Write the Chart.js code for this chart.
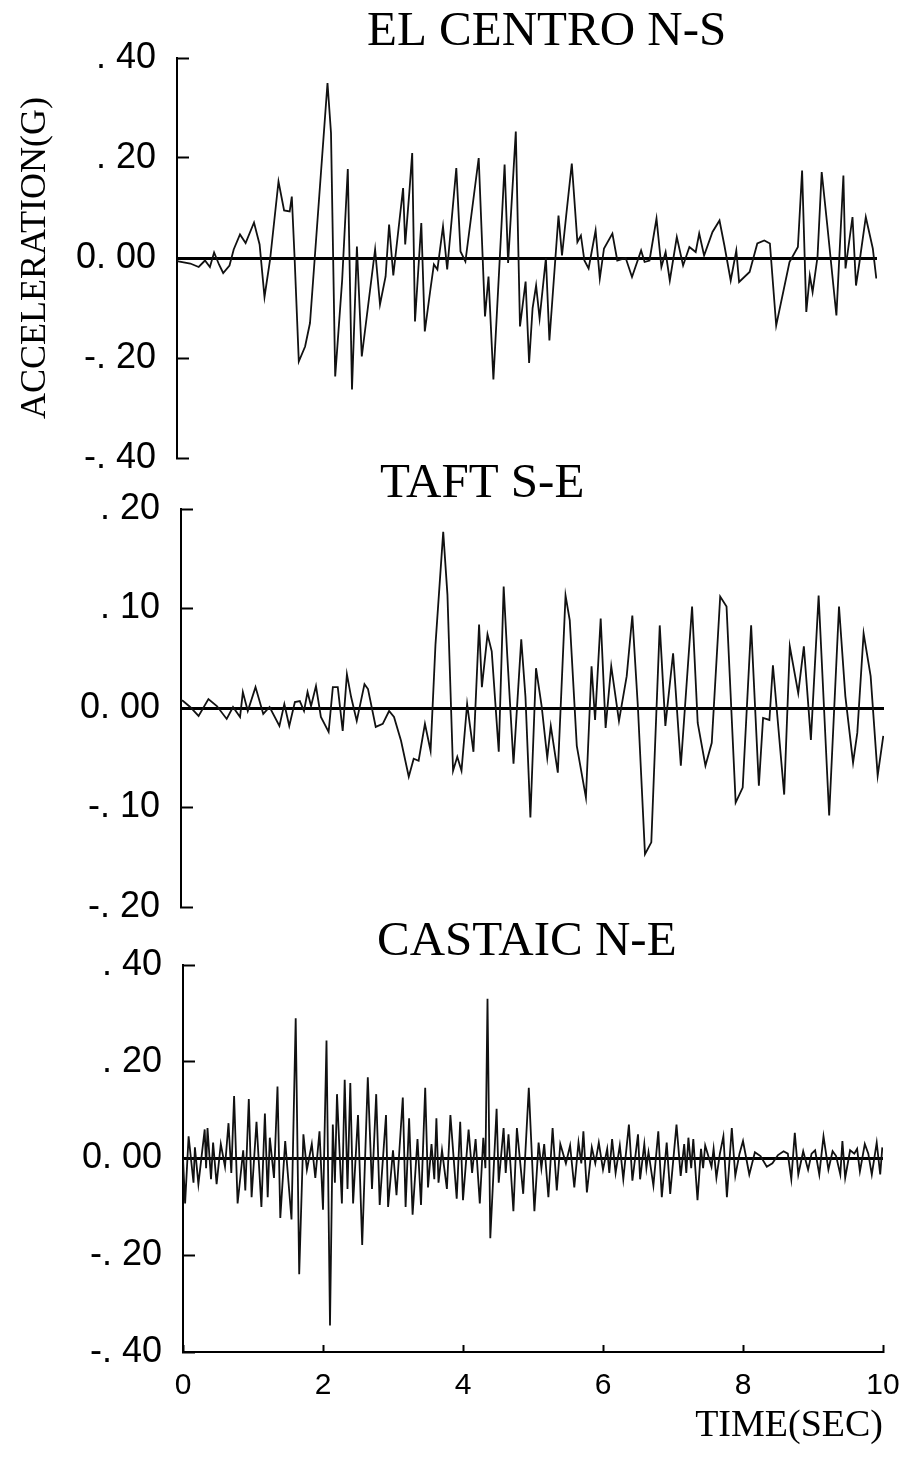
<!DOCTYPE html>
<html>
<head>
<meta charset="utf-8">
<title>Ground acceleration records</title>
<script src="https://cdn.jsdelivr.net/npm/chart.js@4.4.1/dist/chart.umd.min.js"></script>
<style>
  body { margin: 0; background: #fff; }
  #wrap { position: relative; width: 907px; height: 1467px; overflow: hidden; }
  #wrap canvas { position: absolute; left: 0; }
</style>
</head>
<body>
<div id="wrap">
  <canvas id="elCentroChart" width="907" height="470" style="top:0px"></canvas>
  <canvas id="taftChart" width="907" height="500" style="top:430px"></canvas>
  <canvas id="castaicChart" width="907" height="577" style="top:890px"></canvas>
</div>
<script>
// El Centro N-S (time in sec, acceleration in g)
const elTime = [
  0, 0.02, 0.19, 0.31, 0.40, 0.47, 0.53, 0.60, 0.66, 0.75,
  0.81, 0.90, 0.98, 1.10, 1.18, 1.25, 1.33, 1.45, 1.53, 1.61,
  1.64, 1.68, 1.74, 1.83, 1.90, 2.15, 2.20, 2.26, 2.36, 2.44,
  2.50, 2.57, 2.64, 2.83, 2.90, 2.98, 3.03, 3.09, 3.23, 3.26,
  3.32, 3.36, 3.40, 3.49, 3.54, 3.62, 3.67, 3.72, 3.80, 3.86,
  3.99, 4.05, 4.12, 4.31, 4.40, 4.45, 4.52, 4.63, 4.68, 4.73,
  4.84, 4.90, 4.98, 5.03, 5.08, 5.13, 5.18, 5.27, 5.32, 5.45,
  5.50, 5.56, 5.64, 5.72, 5.77, 5.82, 5.88, 5.98, 6.04, 6.10,
  6.22, 6.29, 6.41, 6.50, 6.63, 6.68, 6.75, 6.85, 6.92, 6.98,
  7.04, 7.14, 7.23, 7.32, 7.41, 7.46, 7.53, 7.65, 7.75, 7.82,
  7.91, 7.99, 8.03, 8.18, 8.29, 8.39, 8.47, 8.56, 8.75, 8.87,
  8.93, 8.99, 9.04, 9.08, 9.15, 9.21, 9.29, 9.42, 9.52, 9.55,
  9.65, 9.70, 9.75, 9.84, 9.94, 9.99
];
const elAccel = [
  -0.005, -0.007, -0.011, -0.018, -0.005, -0.018, 0.011, -0.013, -0.03, -0.015,
  0.017, 0.047, 0.03, 0.071, 0.027, -0.078, -0.003, 0.153, 0.095, 0.093,
  0.123, 0, -0.207, -0.177, -0.13, 0.35, 0.25, -0.237, -0.043, 0.178,
  -0.263, 0.023, -0.197, 0.017, -0.093, -0.037, 0.067, -0.035, 0.14, 0.027,
  0.133, 0.21, -0.127, 0.07, -0.147, -0.063, -0.013, -0.023, 0.063, -0.023,
  0.18, 0.013, -0.007, 0.20, -0.117, -0.037, -0.243, 0.05, 0.187, -0.01,
  0.253, -0.137, -0.047, -0.21, -0.10, -0.055, -0.121, 0, -0.165, 0.085,
  0.005, 0.085, 0.189, 0.032, 0.045, -0.005, -0.021, 0.055, -0.041, 0.019,
  0.049, -0.005, 0, -0.038, 0.015, -0.008, -0.005, 0.079, -0.018, 0.012,
  -0.045, 0.042, -0.015, 0.022, 0.012, 0.049, 0.005, 0.052, 0.075, 0.025,
  -0.045, 0.015, -0.048, -0.028, 0.029, 0.035, 0.029, -0.135, -0.008, 0.022,
  0.175, -0.108, -0.035, -0.068, 0.002, 0.172, 0.065, -0.115, 0.165, -0.021,
  0.082, -0.055, -0.008, 0.082, 0.019, -0.041
];

// Taft S-E
const taftTime = [
  0, 0.03, 0.13, 0.25, 0.39, 0.51, 0.65, 0.74, 0.84, 0.88,
  0.95, 1.06, 1.17, 1.26, 1.40, 1.47, 1.54, 1.62, 1.69, 1.75,
  1.80, 1.85, 1.92, 1.99, 2.10, 2.16, 2.23, 2.30, 2.36, 2.42,
  2.50, 2.61, 2.66, 2.77, 2.87, 2.96, 3.03, 3.13, 3.24, 3.31,
  3.38, 3.47, 3.55, 3.62, 3.73, 3.79, 3.87, 3.93, 3.99, 4.07,
  4.16, 4.24, 4.28, 4.36, 4.42, 4.52, 4.59, 4.64, 4.73, 4.84,
  4.90, 4.97, 5.05, 5.13, 5.21, 5.26, 5.36, 5.47, 5.53, 5.63,
  5.76, 5.84, 5.89, 5.97, 6.04, 6.12, 6.23, 6.34, 6.42, 6.50,
  6.60, 6.69, 6.81, 6.89, 7.00, 7.11, 7.27, 7.35, 7.46, 7.55,
  7.67, 7.76, 7.89, 7.99, 8.11, 8.22, 8.28, 8.37, 8.42, 8.58,
  8.66, 8.78, 8.86, 8.96, 9.07, 9.22, 9.36, 9.45, 9.56, 9.62,
  9.71, 9.81, 9.91, 9.99
];
const taftAccel = [
  0.008, 0.007, 0.001, -0.008, 0.009, 0.002, -0.011, 0.001, -0.009, 0.016,
  -0.003, 0.021, -0.006, 0.001, -0.018, 0.004, -0.018, 0.006, 0.007, -0.003,
  0.016, 0.002, 0.022, -0.009, -0.024, 0.021, 0.021, -0.023, 0.034, 0.011,
  -0.013, 0.024, 0.019, -0.019, -0.016, -0.003, -0.009, -0.033, -0.069, -0.051,
  -0.053, -0.016, -0.043, 0.064, 0.177, 0.114, -0.063, -0.049, -0.063, 0.004,
  -0.044, 0.084, 0.021, 0.074, 0.057, -0.044, 0.122, 0.054, -0.056, 0.069,
  0.011, -0.11, 0.04, 0.002, -0.05, -0.018, -0.065, 0.113, 0.088, -0.038,
  -0.09, 0.042, -0.012, 0.09, -0.02, 0.042, -0.013, 0.032, 0.093, 0,
  -0.147, -0.135, 0.083, -0.018, 0.055, -0.058, 0.102, -0.015, -0.058, -0.035,
  0.112, 0.102, -0.095, -0.08, 0.083, -0.078, -0.01, -0.012, 0.043, -0.087,
  0.062, 0.015, 0.062, -0.032, 0.113, -0.108, 0.102, 0.012, -0.055, -0.025,
  0.075, 0.032, -0.068, -0.028
];

// Castaic N-E
const castaicTime = [
  0.00, 0.03, 0.08, 0.15, 0.17, 0.22, 0.31, 0.33, 0.35, 0.40,
  0.43, 0.48, 0.54, 0.60, 0.65, 0.69, 0.73, 0.78, 0.86, 0.89,
  0.94, 0.98, 1.05, 1.12, 1.17, 1.21, 1.24, 1.30, 1.35, 1.39,
  1.46, 1.55, 1.61, 1.66, 1.72, 1.77, 1.84, 1.89, 1.95, 2.00,
  2.05, 2.10, 2.14, 2.17, 2.20, 2.27, 2.31, 2.35, 2.39, 2.43,
  2.50, 2.56, 2.64, 2.70, 2.76, 2.81, 2.90, 2.93, 3.00, 3.05,
  3.14, 3.18, 3.23, 3.28, 3.35, 3.40, 3.46, 3.50, 3.55, 3.59,
  3.62, 3.65, 3.70, 3.77, 3.82, 3.91, 3.96, 4.00, 4.08, 4.13,
  4.18, 4.24, 4.29, 4.32, 4.35, 4.39, 4.48, 4.51, 4.58, 4.61,
  4.65, 4.72, 4.77, 4.86, 4.94, 5.02, 5.08, 5.12, 5.16, 5.22,
  5.28, 5.34, 5.39, 5.47, 5.53, 5.59, 5.65, 5.69, 5.72, 5.77,
  5.84, 5.89, 5.94, 6.00, 6.06, 6.09, 6.13, 6.18, 6.24, 6.29,
  6.37, 6.42, 6.50, 6.53, 6.59, 6.62, 6.65, 6.72, 6.79, 6.84,
  6.91, 6.96, 7.05, 7.11, 7.16, 7.19, 7.22, 7.26, 7.29, 7.35,
  7.40, 7.43, 7.46, 7.55, 7.58, 7.62, 7.67, 7.72, 7.77, 7.84,
  7.89, 7.95, 8.00, 8.09, 8.17, 8.25, 8.34, 8.42, 8.50, 8.58,
  8.64, 8.69, 8.74, 8.79, 8.86, 8.93, 8.98, 9.03, 9.09, 9.15,
  9.22, 9.28, 9.33, 9.39, 9.42, 9.46, 9.53, 9.59, 9.63, 9.67,
  9.74, 9.79, 9.84, 9.91, 9.96, 9.99
];
const castaicAccel = [
  0, -0.093, 0.046, -0.05, 0.023, -0.053, 0.06, -0.02, 0.063, -0.043,
  0.033, -0.053, 0.03, -0.017, 0.073, -0.03, 0.129, -0.093, 0.017, -0.066,
  0.123, -0.08, 0.076, -0.10, 0.093, -0.08, 0.043, -0.04, 0.149, -0.123,
  0.036, -0.126, 0.29, -0.239, 0.05, -0.023, 0.03, -0.04, 0.056, -0.106,
  0.244, -0.345, 0.07, -0.05, 0.133, -0.093, 0.163, -0.063, 0.156, -0.093,
  0.09, -0.179, 0.168, -0.063, 0.133, -0.096, 0.09, -0.10, 0.017, -0.076,
  0.126, -0.10, 0.083, -0.116, 0.04, -0.096, 0.146, -0.06, 0.03, -0.043,
  0.083, -0.05, 0.017, -0.063, 0.09, -0.083, 0.076, -0.086, 0.06, -0.03,
  0.04, -0.093, 0.043, -0.02, 0.33, -0.165, 0.103, -0.05, 0.063, -0.03,
  0.05, -0.109, 0.063, -0.073, 0.146, -0.109, 0.033, -0.02, 0.03, -0.08,
  0.063, -0.066, 0.03, -0.01, 0.027, -0.06, 0.033, -0.01, 0.056, -0.07,
  0.023, -0.01, 0.033, -0.023, 0.02, -0.03, 0.04, -0.03, 0.027, -0.043,
  0.07, -0.046, 0.05, -0.043, 0.03, -0.02, 0.013, -0.056, 0.056, -0.08,
  0.033, -0.073, 0.07, -0.036, 0.03, -0.03, 0.043, -0.02, 0.04, -0.086,
  0.02, -0.02, 0.027, -0.017, 0.02, -0.04, 0.01, 0.046, -0.08, 0.063,
  -0.036, 0.01, 0.036, -0.033, 0.013, 0.005, -0.017, -0.01, 0.007, 0.015,
  0.01, -0.043, 0.053, -0.033, 0.015, -0.023, 0.01, 0.017, -0.033, 0.046,
  -0.023, 0.015, 0.005, -0.033, 0.036, -0.04, 0.017, 0.01, 0.02, -0.027,
  0.03, 0.01, -0.033, 0.033, -0.033, 0.023
];

// tick labels, listed bottom to top / left to right
const wideTickLabels = ['-. 40', '-. 20', '0. 00', '. 20', '. 40'];
const narrowTickLabels = ['-. 20', '-. 10', '0. 00', '. 10', '. 20'];
const timeTickLabels = ['0', '2', '4', '6', '8', '10'];

Chart.defaults.color = '#000';

// draws the record name above each panel
const panelTitlePlugin = {
  id: 'panelTitle',
  afterDraw(chart, args, opts) {
    const ctx = chart.ctx;
    ctx.save();
    ctx.font = '49px "Liberation Serif"';
    ctx.fillStyle = '#000';
    ctx.textBaseline = 'alphabetic';
    ctx.textAlign = 'left';
    ctx.fillText(opts.text, opts.x, opts.y);
    ctx.restore();
  }
};

function toPoints(times, values) {
  return times.map((t, i) => ({ x: t, y: values[i] }));
}

function yScale(min, max, step, labels, axisX, showTitle) {
  return {
    type: 'linear',
    min: min,
    max: max,
    afterFit: s => {
      s.width = axisX - 8;
      s.paddingTop = 0;
      s.paddingBottom = 0;
    },
    border: { display: true, color: '#000', width: 2 },
    grid: {
      drawOnChartArea: true,
      color: c => (c.tick && Math.abs(c.tick.value) < 1e-9) ? '#000' : 'rgba(0,0,0,0)',
      lineWidth: c => (c.tick && Math.abs(c.tick.value) < 1e-9) ? 3 : 1,
      tickColor: '#000',
      tickWidth: 2,
      tickLength: -12
    },
    ticks: {
      stepSize: step,
      padding: 33,
      color: '#000',
      font: { family: 'Liberation Sans', size: 36 },
      callback: (v, i) => labels[i]
    },
    title: {
      display: showTitle,
      text: 'ACCELERATION(G)',
      color: '#000',
      font: { family: 'Liberation Serif', size: 36 },
      padding: { top: 6, bottom: 0 }
    }
  };
}

function hiddenX() {
  return { type: 'linear', min: 0, max: 10, display: false };
}

function makeChart(id, times, values, yOpts, xOpts, padding, title) {
  const ctx = document.getElementById(id).getContext('2d');
  return new Chart(ctx, {
    type: 'line',
    data: {
      datasets: [{
        data: toPoints(times, values),
        borderColor: '#111',
        borderWidth: 1.8,
        pointRadius: 0,
        tension: 0,
        fill: false
      }]
    },
    options: {
      responsive: false,
      animation: false,
      layout: { padding: padding },
      scales: { x: xOpts, y: yOpts },
      plugins: {
        legend: { display: false },
        tooltip: { enabled: false },
        panelTitle: title
      }
    },
    plugins: [panelTitlePlugin]
  });
}

makeChart('elCentroChart', elTime, elAccel,
  yScale(-0.4, 0.4, 0.2, wideTickLabels, 177, true),
  hiddenX(),
  { left: 8, right: 30, top: 58, bottom: 12 },
  { text: 'EL CENTRO N-S', x: 367, y: 45 });

makeChart('taftChart', taftTime, taftAccel,
  yScale(-0.2, 0.2, 0.1, narrowTickLabels, 181, false),
  hiddenX(),
  { left: 8, right: 23, top: 79, bottom: 23 },
  { text: 'TAFT S-E', x: 380, y: 67 });

makeChart('castaicChart', castaicTime, castaicAccel,
  yScale(-0.4, 0.4, 0.2, wideTickLabels, 183, false),
  {
    type: 'linear',
    min: 0,
    max: 10,
    afterFit: s => {
      s.height = 100;
      s.paddingLeft = 0;
      s.paddingRight = 0;
    },
    border: { display: true, color: '#000', width: 2 },
    grid: { drawOnChartArea: false, tickColor: '#000', tickWidth: 2, tickLength: -7 },
    ticks: {
      stepSize: 2,
      padding: 23,
      maxRotation: 0,
      autoSkip: false,
      color: '#000',
      font: { family: 'Liberation Sans', size: 30 },
      callback: (v, i) => timeTickLabels[i]
    },
    title: {
      display: true,
      text: 'TIME(SEC)',
      align: 'end',
      color: '#000',
      font: { family: 'Liberation Serif', size: 38 },
      padding: { top: 0, bottom: 3 }
    }
  },
  { left: 8, right: 24, top: 75, bottom: 15 },
  { text: 'CASTAIC N-E', x: 377, y: 65 });
</script>
</body>
</html>
